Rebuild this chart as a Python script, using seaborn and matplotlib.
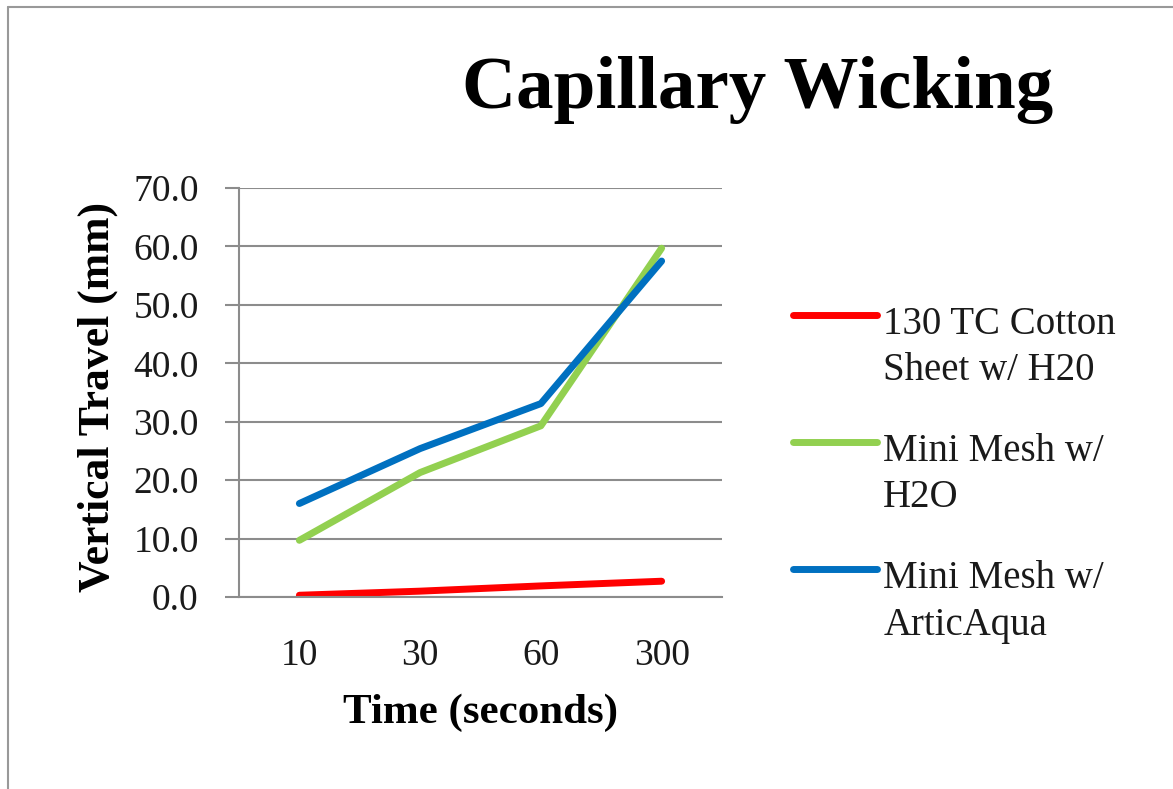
import numpy as np
import pandas as pd
import seaborn as sns
import matplotlib.pyplot as plt
from matplotlib.lines import Line2D
from matplotlib.legend_handler import HandlerLine2D
from matplotlib.ticker import FormatStrFormatter

# chart values
times = ["10", "30", "60", "300"]
cotton_h2o = [0.3, 1.0, 1.9, 2.7]
mesh_h2o = [9.7, 21.3, 29.3, 59.7]
mesh_arctic = [16.0, 25.4, 33.1, 57.5]
series_names = ["130 TC Cotton\nSheet w/ H20", "Mini Mesh w/\nH2O", "Mini Mesh w/\nArticAqua"]
series_colors = ["#FF0000", "#92D050", "#0070C0"]

df = pd.DataFrame({
    "time": times * 3,
    "travel": cotton_h2o + mesh_h2o + mesh_arctic,
    "series": np.repeat(series_names, len(times)),
})

sns.set_theme(style="white")
plt.rcParams["font.family"] = ["Liberation Serif", "DejaVu Serif"]
plt.rcParams["text.color"] = "black"

W, H = 1173, 789
fig = plt.figure(figsize=(W / 100, H / 100), dpi=100)
ax = fig.add_axes([239 / W, 1 - 597 / H, (722 - 239) / W, 409 / H])

sns.lineplot(data=df, x="time", y="travel", hue="series", palette=series_colors,
             linewidth=5, sort=False, legend=False, ax=ax, solid_capstyle="round")

grey = "#8c8c8c"
ax.set_xlim(-0.5, 3.5)
ax.set_ylim(0, 70)
ax.set_yticks(np.arange(0, 71, 10))
ax.yaxis.set_major_formatter(FormatStrFormatter("%.1f"))
ax.grid(axis="y", color=grey, lw=1.5)
ax.set_axisbelow(True)
for side in ["top", "right"]:
    ax.spines[side].set_visible(False)
for side in ["left", "bottom"]:
    ax.spines[side].set_color(grey)
    ax.spines[side].set_linewidth(1.5)
ax.tick_params(axis="y", left=True, length=10, width=1.5, color=grey, pad=19,
               labelsize=27, labelcolor="#1a1a1a")
ax.tick_params(axis="x", bottom=False, length=0, pad=30, labelsize=27, labelcolor="#1a1a1a")

ax.set_xlabel("Time (seconds)", fontsize=31, fontweight="bold", color="black")
ax.xaxis.set_label_coords(0.5, -0.235)
ax.set_ylabel("Vertical Travel (mm)", fontsize=31.5, fontweight="bold", color="black")
ax.yaxis.set_label_coords(-0.25, 0.49)

fig.text(0.646, 1 - 108 / H, "Capillary Wicking", ha="center", va="baseline",
         fontsize=54, fontweight="bold", color="black")


# excel puts the legend line next to the first text line
class FirstLineHandler(HandlerLine2D):
    def create_artists(self, legend, orig_handle, xdescent, ydescent, width, height, fontsize, trans):
        arts = super().create_artists(legend, orig_handle, xdescent, ydescent, width, height, fontsize, trans)
        for a in arts:
            a.set_ydata(np.asarray(a.get_ydata()) + 0.85 * fontsize)
        return arts


handles = [Line2D([], [], color=c, lw=5, solid_capstyle="round") for c in series_colors]
leg = fig.legend(handles, series_names, loc="upper left", bbox_to_anchor=(793 / W, 1 - 306 / H),
                 frameon=False, fontsize=28, handlelength=2.16, handletextpad=0.16,
                 labelspacing=1.13, borderpad=0, borderaxespad=0,
                 handler_map={Line2D: FirstLineHandler()})
for t in leg.get_texts():
    t.set_linespacing(1.33)
    t.set_color("#1a1a1a")

# thin frame of the chart area
fig.add_artist(Line2D([8 / W, 1], [1 - 7 / H] * 2, transform=fig.transFigure, color="#999999", lw=1.5))
fig.add_artist(Line2D([8 / W] * 2, [0, 1 - 7 / H], transform=fig.transFigure, color="#999999", lw=1.5))

fig.savefig("out.png", dpi=100)
